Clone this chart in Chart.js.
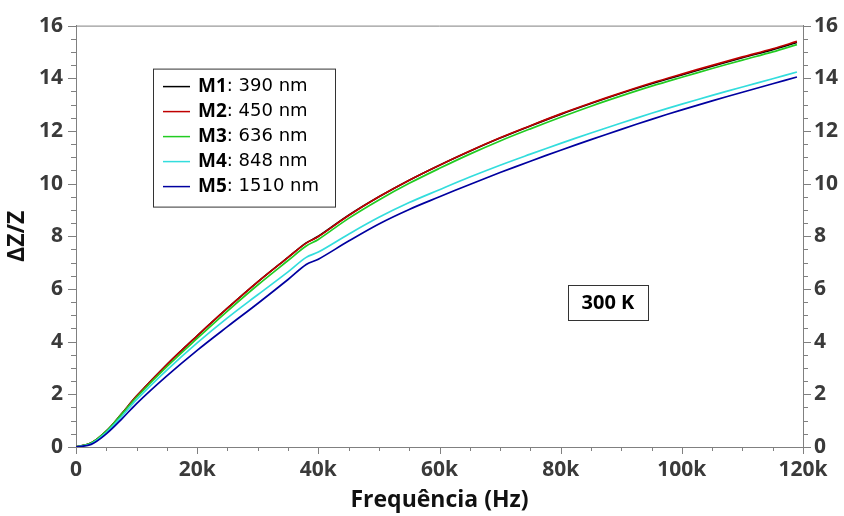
<!DOCTYPE html>
<html>
<head>
<meta charset="utf-8">
<script src="https://cdn.jsdelivr.net/npm/chart.js@4/dist/chart.umd.min.js"></script>
<style>
  html, body { margin: 0; padding: 0; background: #fff; }
  #wrap { width: 844px; height: 516px; }
</style>
</head>
<body>
<div id="wrap"><canvas id="chart" width="844" height="516"></canvas></div>
<script>
// frequency (Hz)
const freqs = [0, 2500, 5000, 7500, 10000, 15000, 20000, 25000, 30000, 35000, 38000, 40000,
  45000, 50000, 55000, 60000, 65000, 70000, 75000, 80000, 85000, 90000, 95000, 100000,
  105000, 110000, 115000, 119000];

// ΔZ/Z for each sample
const m1 = [0, 0.15, 0.6, 1.25, 1.93, 3.13, 4.22, 5.27, 6.27, 7.2, 7.75, 8.0, 8.8, 9.5, 10.13,
  10.7, 11.23, 11.73, 12.19, 12.63, 13.04, 13.43, 13.79, 14.13, 14.46, 14.78, 15.09, 15.36];
const m2 = [0, 0.15, 0.6, 1.25, 1.93, 3.13, 4.22, 5.27, 6.27, 7.2, 7.74, 7.99, 8.79, 9.5, 10.13,
  10.7, 11.24, 11.74, 12.2, 12.65, 13.06, 13.45, 13.82, 14.16, 14.49, 14.81, 15.12, 15.4];
const m3 = [0, 0.15, 0.6, 1.24, 1.89, 3.05, 4.12, 5.16, 6.15, 7.08, 7.63, 7.88, 8.68, 9.38, 10.01,
  10.58, 11.12, 11.62, 12.08, 12.52, 12.94, 13.33, 13.7, 14.04, 14.37, 14.69, 15.0, 15.28];
const m4 = [0, 0.12, 0.55, 1.15, 1.8, 2.92, 3.95, 4.9, 5.78, 6.65, 7.2, 7.4, 8.08, 8.72, 9.28,
  9.77, 10.25, 10.7, 11.12, 11.53, 11.92, 12.3, 12.67, 13.02, 13.35, 13.67, 13.98, 14.24];
const m5 = [0, 0.1, 0.5, 1.05, 1.65, 2.7, 3.67, 4.57, 5.45, 6.36, 6.93, 7.13, 7.82, 8.47, 9.02,
  9.5, 9.97, 10.42, 10.85, 11.27, 11.67, 12.06, 12.44, 12.8, 13.14, 13.47, 13.79, 14.05];

const seriesNames = ['M1', 'M2', 'M3', 'M4', 'M5'];
const seriesLabels = ['390 nm', '450 nm', '636 nm', '848 nm', '1510 nm'];
const seriesColors = ['#000000', '#c00000', '#22cc22', '#33dddd', '#0000a0'];
const seriesData = [m1, m2, m3, m4, m5];

const xTickLabels = [0, 20000, 40000, 60000, 80000, 100000, 120000];
const yTickLabels = [0, 2, 4, 6, 8, 10, 12, 14, 16];
const tempLabel = '300 K';

const FONT = '"Open Sans", "DejaVu Sans", sans-serif';
const AXIS_COLOR = '#808080';
const TICK_TEXT = '#3a3a3a';

const fmtK = v => v === 0 ? '0' : (v / 1000) + 'k';

// draws tick marks (major + minor), top border, legend and temperature label
const decorPlugin = {
  id: 'decor',
  afterDraw(chart) {
    const { ctx, chartArea: a, scales } = chart;
    const x = scales.x, y = scales.y;
    ctx.save();
    ctx.strokeStyle = AXIS_COLOR;
    ctx.lineWidth = 1;
    ctx.beginPath();
    // top border
    ctx.moveTo(a.left, a.top + 0.5);
    ctx.lineTo(a.right, a.top + 0.5);
    // x ticks
    for (let v = 0; v <= 120000; v += 5000) {
      const px = Math.round(x.getPixelForValue(v)) + 0.5;
      const len = v % 20000 === 0 ? 7 : 4;
      ctx.moveTo(px, a.bottom);
      ctx.lineTo(px, a.bottom + len);
    }
    // y ticks, both sides
    for (let v = 0; v <= 16; v += 0.5) {
      const py = Math.round(y.getPixelForValue(v)) + 0.5;
      const len = v % 2 === 0 ? 8 : 5;
      ctx.moveTo(a.left, py);
      ctx.lineTo(a.left - len, py);
      ctx.moveTo(a.right, py);
      ctx.lineTo(a.right + len, py);
    }
    ctx.stroke();

    // legend box
    const bx = a.left + 77, by = a.top + 43, bw = 182, bh = 138;
    ctx.fillStyle = '#fff';
    ctx.fillRect(bx, by, bw, bh);
    ctx.strokeStyle = '#333';
    ctx.strokeRect(bx + 0.5, by + 0.5, bw, bh);
    ctx.textBaseline = 'middle';
    seriesNames.forEach((name, i) => {
      const ry = by + 18 + i * 25;
      ctx.strokeStyle = seriesColors[i];
      ctx.lineWidth = 1.5;
      ctx.beginPath();
      ctx.moveTo(bx + 10, ry);
      ctx.lineTo(bx + 37, ry);
      ctx.stroke();
      ctx.fillStyle = '#000';
      ctx.font = 'bold 19px ' + FONT;
      ctx.fillText(name, bx + 45, ry);
      const w = ctx.measureText(name).width;
      ctx.font = '18px "DejaVu Sans", sans-serif';
      ctx.fillText(': ' + seriesLabels[i], bx + 45 + w, ry);
    });

    // temperature label
    const cx = x.getPixelForValue(87800), cy = y.getPixelForValue(5.45);
    ctx.fillStyle = '#fff';
    ctx.fillRect(cx - 40, cy - 18, 80, 35);
    ctx.strokeStyle = '#333';
    ctx.lineWidth = 1;
    ctx.strokeRect(Math.round(cx - 40) + 0.5, Math.round(cy - 18) + 0.5, 80, 35);
    ctx.fillStyle = '#000';
    ctx.font = 'bold 20px ' + FONT;
    ctx.textAlign = 'center';
    ctx.fillText(tempLabel, cx, cy);
    ctx.restore();
  }
};

new Chart(document.getElementById('chart'), {
  type: 'line',
  data: {
    labels: freqs,
    datasets: seriesData.map((d, i) => ({
      label: seriesNames[i] + ': ' + seriesLabels[i],
      data: freqs.map((f, j) => ({ x: f, y: d[j] })),
      borderColor: seriesColors[i],
      borderWidth: 1.7,
      pointRadius: 0,
      tension: 0.35,
      fill: false,
    })).reverse(),
  },
  options: {
    responsive: false,
    animation: false,
    layout: { padding: { top: 24, right: 0, left: 0, bottom: 0 } },
    plugins: { legend: { display: false }, tooltip: { enabled: false } },
    scales: {
      x: {
        type: 'linear',
        min: 0, max: 120000,
        afterFit: s => { s.height = 69; },
        grid: { display: false, drawTicks: false },
        border: { display: true, color: AXIS_COLOR, width: 1 },
        afterBuildTicks: s => { s.ticks = xTickLabels.map(v => ({ value: v })); },
        ticks: {
          padding: 10, color: TICK_TEXT, maxRotation: 0,
          font: { family: FONT, size: 21, weight: 'bold' },
          callback: v => fmtK(v),
        },
        title: {
          display: true, text: 'Frequência (Hz)', color: '#111',
          font: { family: FONT, size: 23, weight: 'bold' },
          padding: { top: 0, bottom: 2 },
        },
      },
      y: {
        min: 0, max: 16,
        afterFit: s => { s.width = 76; },
        grid: { display: false, drawTicks: false },
        border: { display: true, color: AXIS_COLOR, width: 1 },
        afterBuildTicks: s => { s.ticks = yTickLabels.map(v => ({ value: v })); },
        ticks: {
          padding: 13, color: TICK_TEXT,
          font: { family: FONT, size: 21, weight: 'bold' },
        },
        title: {
          display: true, text: 'ΔZ/Z', color: '#111',
          font: { family: FONT, size: 23, weight: 'bold' },
          padding: { top: 4, bottom: 0 },
        },
      },
      y2: {
        position: 'right',
        min: 0, max: 16,
        afterFit: s => { s.width = 41; },
        grid: { display: false, drawTicks: false },
        border: { display: true, color: AXIS_COLOR, width: 1 },
        afterBuildTicks: s => { s.ticks = yTickLabels.map(v => ({ value: v })); },
        ticks: {
          padding: 11, color: TICK_TEXT,
          font: { family: FONT, size: 21, weight: 'bold' },
        },
      },
    },
  },
  plugins: [decorPlugin],
});
</script>
</body>
</html>
